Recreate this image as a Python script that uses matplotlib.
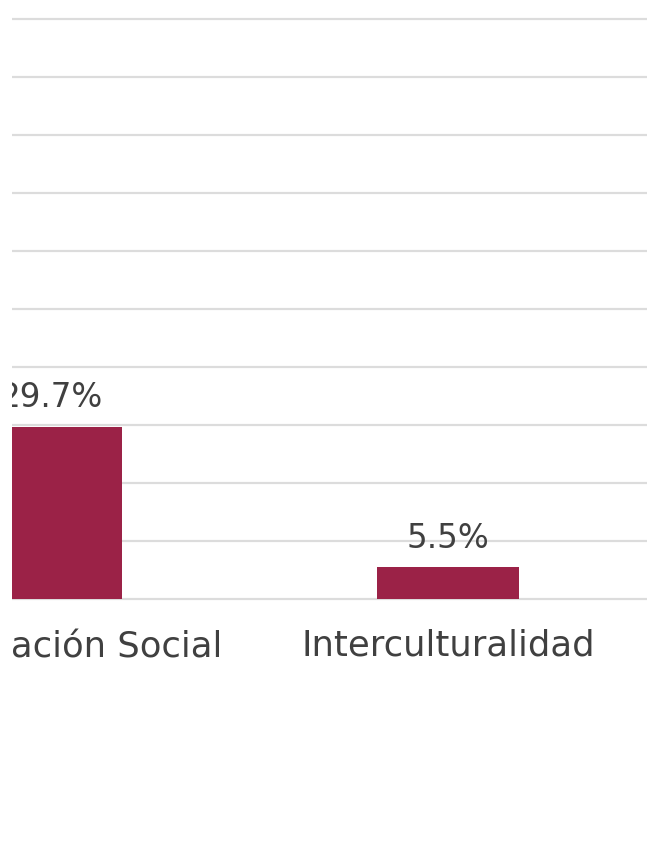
import matplotlib.pyplot as plt
from matplotlib.patches import Rectangle

# Data (only the last two categories are visible in the crop)
categorias = ["Participación Social", "Interculturalidad"]
porcentajes = [29.7, 5.5]
etiquetas = ["29.7%", "5.5%"]

color_barra = "#9B2247"
color_texto = "#404040"
color_rejilla = "#DCDCDC"

plt.rcParams["font.family"] = ["DejaVu Sans"]

fig = plt.figure(figsize=(6.7, 8.52), dpi=100)
# axes runs off the left side of the figure, like the cropped original
ax = fig.add_axes([-0.2201, 0.2901, 1.1851, 0.6944])

x = list(range(len(categorias)))
barras = ax.bar(x, porcentajes, width=0.358, color=color_barra, zorder=3)
ax.bar_label(barras, labels=etiquetas, padding=9, fontsize=23.5,
             color=color_texto)

ax.set_xlim(-0.5, 1.5)
ax.set_ylim(-1, 101)
ax.set_yticks(range(0, 101, 10))
ax.set_yticklabels([])
ax.set_xticks(x)
ax.set_xticklabels(categorias, fontsize=25.5, color=color_texto)
ax.tick_params(axis="both", length=0)
ax.tick_params(axis="x", pad=17)
ax.grid(axis="y", color=color_rejilla, linewidth=1.6, zorder=0)
for s in ax.spines.values():
    s.set_visible(False)

# white strip on the far left where the original image was cut
fig.patches.append(Rectangle((0, 0), 12 / 670, 1, transform=fig.transFigure,
                             facecolor="white", edgecolor="none", zorder=10))

fig.savefig("out.png", dpi=100, facecolor="white")
